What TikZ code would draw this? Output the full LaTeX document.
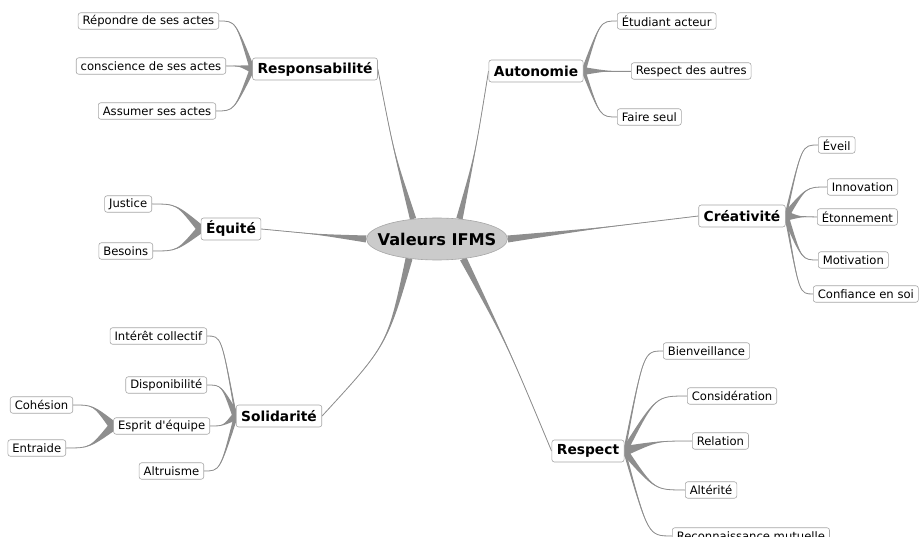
\documentclass[tikz,border=0pt]{standalone}
\usepackage{fontspec}
\setmainfont{DejaVu Sans}
\newfontfamily\plainapos{DejaVu Sans}
\usetikzlibrary{calc,shapes.geometric}
\pgfdeclarelayer{bg}
\pgfsetlayers{bg,main}
\definecolor{brc}{HTML}{8E8E8E}
\definecolor{bdc}{HTML}{A6A6A6}
\definecolor{elc}{HTML}{CBCBCB}
% #1 half width at parent, #2 #3 control fractions, #4 parent anchor, #5 child anchor
\newcommand\tbr[5]{%
  \path let \p1=(#4),\p2=(#5) in ({\x1+#2*(\x2-\x1)},{\y1+#3*(\y2-\y1)}) coordinate (tK);
  \fill[brc] ($(#4)!#1pt!90:(tK)$) .. controls (tK) .. (#5) .. controls (tK) .. ($(#4)!#1pt!-90:(tK)$) -- cycle;
  \draw[brc,line width=0.8pt] (#4) .. controls (tK) .. (#5);}
\tikzset{
  leaf/.style={draw=bdc,fill=white,rounded corners=2.5pt,line width=0.6pt,
    font=\fontsize{11.6}{13}\selectfont,inner xsep=4.5pt,inner ysep=0pt,minimum height=16.5pt},
  mainnode/.style={leaf,font=\fontsize{13.8}{16}\selectfont\bfseries,minimum height=22pt,inner xsep=5pt},
}
\begin{document}
\begin{tikzpicture}[x=1pt,y=-1pt]
\useasboundingbox (0,0) rectangle (924,537);
% centre
\node[ellipse,draw=bdc,fill=elc,line width=0.6pt,minimum width=141pt,minimum height=42pt,inner sep=0pt] (c) at (437,239) {};
\node[font=\fontsize{16.2}{18}\selectfont\bfseries] (ct) at (c) {Valeurs IFMS};
% main nodes
\node[mainnode] (resp) at (315,69) {Responsabilité};
\node[mainnode] (auto) at (536,71) {Autonomie};
\node[mainnode] (equi) at (231,229) {Équité};
\node[mainnode] (crea) at (742,216) {Créativité};
\node[mainnode] (soli) at (279,416) {Solidarité};
\node[mainnode] (resq) at (588,451) {Respect};
% leaves
\node[leaf,anchor=east] (rep) at (219,21) {Répondre de ses actes};
\node[leaf,anchor=east] (con) at (226,66) {conscience de ses actes};
\node[leaf,anchor=east] (ass) at (216,111) {Assumer ses actes};
\node[leaf,anchor=west] (etu) at (617,21) {Étudiant acteur};
\node[leaf,anchor=west] (rda) at (631,71) {Respect des autres};
\node[leaf,anchor=west] (fai) at (617,117) {Faire seul};
\node[leaf,anchor=east] (jus) at (152,204) {Justice};
\node[leaf,anchor=east] (bes) at (153,251) {Besoins};
\node[leaf,anchor=west] (eve) at (818,145) {Éveil};
\node[leaf,anchor=west] (inn) at (827,187) {Innovation};
\node[leaf,anchor=west] (eto) at (817,217) {Étonnement};
\node[leaf,anchor=west] (mot) at (818,260) {Motivation};
\node[leaf,anchor=west] (cfs) at (813,294) {Confiance en soi};
\node[leaf,anchor=east] (int) at (207,336) {Intérêt collectif};
\node[leaf,anchor=east] (dis) at (207,385) {Disponibilité};
\node[leaf,anchor=east] (esp) at (210,426) {Esprit d{\plainapos\symbol{39}}équipe};
\node[leaf,anchor=east] (coh) at (73,405) {Cohésion};
\node[leaf,anchor=east] (ent) at (66,448) {Entraide};
\node[leaf,anchor=east] (alt) at (204,471) {Altruisme};
\node[leaf,anchor=west] (bie) at (663,351) {Bienveillance};
\node[leaf,anchor=west] (cns) at (687,396) {Considération};
\node[leaf,anchor=west] (rel) at (692,441) {Relation};
\node[leaf,anchor=west] (alr) at (685,490) {Altérité};
\node[leaf,anchor=west] (rec) at (672,536) {Reconnaissance mutuelle};
\begin{pgfonlayer}{bg}
% main branches
\tbr{3.2}{0.55}{0.45}{c.140}{resp.east}
\tbr{3.2}{0.55}{0.45}{c.42}{auto.west}
\tbr{3.5}{0.5}{0.5}{c.west}{equi.east}
\tbr{3.5}{0.5}{0.5}{c.east}{crea.west}
\tbr{3.5}{0.25}{0.55}{c.215}{soli.east}
\tbr{3.5}{0.5}{0.45}{c.323}{resq.west}
% Responsabilité
\tbr{2.5}{0.5}{1}{resp.west}{rep.east}
\tbr{4}{0.5}{1}{resp.west}{con.east}
\tbr{2.5}{0.5}{1}{resp.west}{ass.east}
% Autonomie
\tbr{2.2}{0.5}{1}{auto.east}{etu.west}
\tbr{4}{0.5}{1}{auto.east}{rda.west}
\tbr{2}{0.5}{1}{auto.east}{fai.west}
% Équité
\tbr{4}{0.5}{1}{equi.west}{jus.east}
\tbr{4}{0.5}{1}{equi.west}{bes.east}
% Créativité
\tbr{1.3}{0.5}{1}{crea.east}{eve.west}
\tbr{3.5}{0.5}{1}{crea.east}{inn.west}
\tbr{5}{0.5}{1}{crea.east}{eto.west}
\tbr{3}{0.5}{1}{crea.east}{mot.west}
\tbr{1.2}{0.5}{1}{crea.east}{cfs.west}
% Solidarité
\tbr{1}{0.5}{1}{soli.west}{int.east}
\tbr{3.5}{0.5}{1}{soli.west}{dis.east}
\tbr{4}{0.5}{1}{soli.west}{esp.east}
\tbr{2}{0.5}{1}{soli.west}{alt.east}
% Esprit d'équipe
\tbr{4.5}{0.5}{1}{esp.west}{coh.east}
\tbr{4.5}{0.5}{1}{esp.west}{ent.east}
% Respect
\tbr{1.2}{0.5}{1}{resq.east}{bie.west}
\tbr{3}{0.5}{1}{resq.east}{cns.west}
\tbr{5}{0.5}{1}{resq.east}{rel.west}
\tbr{3.5}{0.5}{1}{resq.east}{alr.west}
\tbr{1.3}{0.5}{1}{resq.east}{rec.west}
\end{pgfonlayer}
\end{tikzpicture}
\end{document}
